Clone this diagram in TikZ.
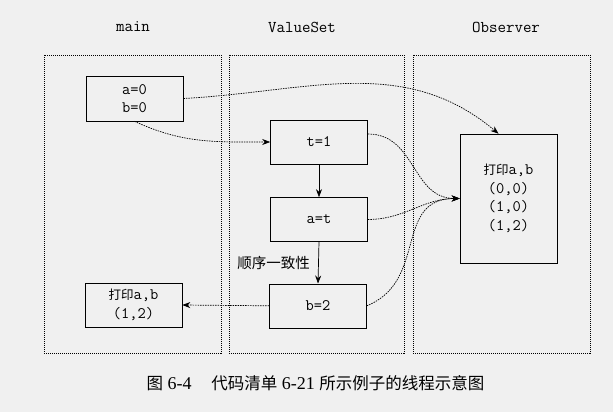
\documentclass[tikz,border=0pt]{standalone}
\usepackage{fontspec}
\setmainfont{Liberation Serif}
\newfontfamily\cjk{Noto Sans CJK SC}
\usetikzlibrary{arrows.meta}

\tikzset{
	lane/.style={draw, line width=0.6pt, dash pattern=on 1pt off 1pt},
	stepbox/.style={draw, line width=0.6pt, minimum width=97pt, minimum height=44pt, inner sep=0pt, align=center, font=\ttfamily\fontsize{16}{18.5}\selectfont},
	flow/.style={-{Stealth[length=8pt,width=6pt]}, line width=0.7pt},
	msg/.style={flow, dash pattern=on 1.5pt off 1pt},
	lanetitle/.style={font=\ttfamily\fontsize{16.5}{17}\selectfont}
}
\newcommand\cjkbox[1]{{\cjk\fontsize{12.5}{12.5}\selectfont #1}}

\begin{document}
\begin{tikzpicture}[x=1pt, y=-1pt]
		%%%%% START %%%%%
		\useasboundingbox[fill=black!6] (0, 0) rectangle (613, 412);
		
		% lanes
		\draw[lane] (44, 55) rectangle (221, 353);
		\draw[lane] (229, 55) rectangle (404, 353);
		\draw[lane] (413, 55) rectangle (590, 353);
		
		\node[lanetitle] (tmain) at (133, 27) {main};
		\node[lanetitle] (tvalue) at (302, 27) {ValueSet};
		\node[lanetitle] (tobs) at (506, 27) {Observer};
		
		% main
		\node[stepbox, minimum height=45pt] (init) at (134.5, 98.5) {a=0\\b=0};
		\node[stepbox] (mainprint) at (133.5, 305) {\cjkbox{打印}a,b\\(1,2)};
		
		% ValueSet
		\node[stepbox] (t1) at (319, 142) {t=1};
		\node[stepbox] (at) at (319, 219.5) {a=t};
		\node[stepbox] (b2) at (318, 305.8) {b=2};
		
		% Observer
		\node[stepbox, minimum height=129pt] (obsprint) at (508.5, 198.5) {\cjkbox{打印}a,b\\(0,0)\\(1,0)\\(1,2)};
		
		\draw[flow] (t1.south) -- (at.north);
		\draw[flow] (at.south) -- (b2.north) node[midway, left=5pt, font=\cjk\fontsize{14.5}{17}\selectfont] (order) {顺序一致性};
		
		\draw[msg] (init.east) to[out=3, in=140] ([xshift=-10pt]obsprint.north);
		\draw[msg] (init.south) to[out=-25, in=180] (t1.west);
		\draw[msg] ([yshift=8pt]t1.east) to[out=0, in=180, looseness=1.1] (obsprint.west);
		\draw[msg] (at.east) to[out=0, in=180] (obsprint.west);
		\draw[msg] (b2.east) to[out=22, in=180, looseness=1.2] (obsprint.west);
		\draw[msg] (b2.west) -- (mainprint.east);
		
		\node[font=\fontsize{18}{20}\selectfont] (caption) at (315.5, 383) {{\cjk\fontsize{16.5}{20}\selectfont 图}~6-4\hspace{1.1em}{\cjk\fontsize{16.5}{20}\selectfont 代码清单}~6-21~{\cjk\fontsize{16.5}{20}\selectfont 所示例子的线程示意图}};
		
		%%%%% END %%%%%
	\end{tikzpicture}
\end{document}
